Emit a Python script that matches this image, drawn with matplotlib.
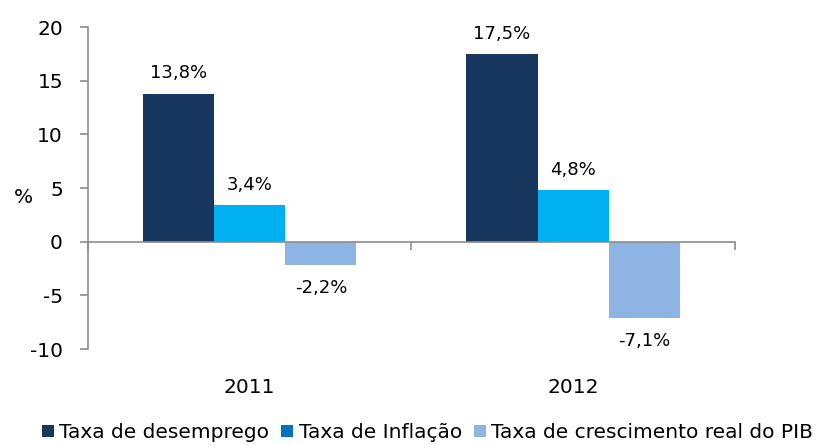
import numpy as np
import matplotlib.pyplot as plt
from matplotlib.patches import Patch
from matplotlib.transforms import blended_transform_factory

years = ["2011", "2012"]
series = ["Taxa de desemprego", "Taxa de Inflação", "Taxa de crescimento real do PIB"]
desemprego = [13.8, 17.5]
inflacao = [3.4, 4.8]
pib = [-2.2, -7.1]
yticks = [-10, -5, 0, 5, 10, 15, 20]

bar_colors = ["#17375E", "#00B0F0", "#8DB4E2"]
legend_colors = ["#17375E", "#0070C0", "#8DB4E2"]

plt.rcParams["font.family"] = "DejaVu Sans"
plt.rcParams["font.size"] = 13
plt.rcParams["axes.unicode_minus"] = False

fig = plt.figure(figsize=(8.19, 4.45), dpi=100)
ax = fig.add_axes([0.1074, 0.2157, 0.79, 0.7236])

x = np.arange(len(years))
w = 0.22
for i, (vals, col) in enumerate(zip([desemprego, inflacao, pib], bar_colors)):
    bars = ax.bar(x + (i - 1) * w, vals, w, color=col, edgecolor="none", zorder=2)
    for b, v in zip(bars, vals):
        txt = f"{v:.1f}%".replace(".", ",")
        if v >= 0:
            ax.annotate(txt, (b.get_x() + b.get_width() / 2, v), xytext=(0, 8),
                        textcoords="offset points", ha="center", va="bottom")
        else:
            ax.annotate(txt, (b.get_x() + b.get_width() / 2, v), xytext=(0, -10),
                        textcoords="offset points", ha="center", va="top")

ax.set_xlim(-0.5, 1.5)
ax.set_ylim(-10, 20)
ax.set_yticks(yticks)
ax.set_yticklabels([str(t) for t in yticks], fontsize=14.5)

ax.spines["top"].set_visible(False)
ax.spines["right"].set_visible(False)
ax.spines["bottom"].set_position(("data", 0))
for s in ("left", "bottom"):
    ax.spines[s].set_color("#8C8C8C")
    ax.spines[s].set_linewidth(1.2)
    ax.spines[s].set_zorder(3)

ax.set_xticks([-0.5, 0.5, 1.5])
ax.set_xticklabels([])
ax.tick_params(axis="x", direction="out", length=6, color="#8C8C8C", width=1.2)
ax.tick_params(axis="y", direction="out", length=6, color="#8C8C8C", width=1.2, pad=12)

trans = blended_transform_factory(ax.transData, ax.transAxes)
for xi, yr in zip(x, years):
    ax.text(xi, -0.12, yr, transform=trans, ha="center", va="center", fontsize=14.5)

ax.set_ylabel("%", rotation=0, va="center", fontsize=14.5)
ax.yaxis.set_label_coords(-0.1, 0.47)

handles = [Patch(facecolor=c, edgecolor="none") for c in legend_colors]
fig.legend(handles, series, loc="lower center", bbox_to_anchor=(0.522, -0.034), ncol=3,
           frameon=False, handlelength=0.6, handleheight=0.6, handletextpad=0.25,
           columnspacing=0.6, fontsize=14.5)

fig.savefig("out.png", dpi=100)
